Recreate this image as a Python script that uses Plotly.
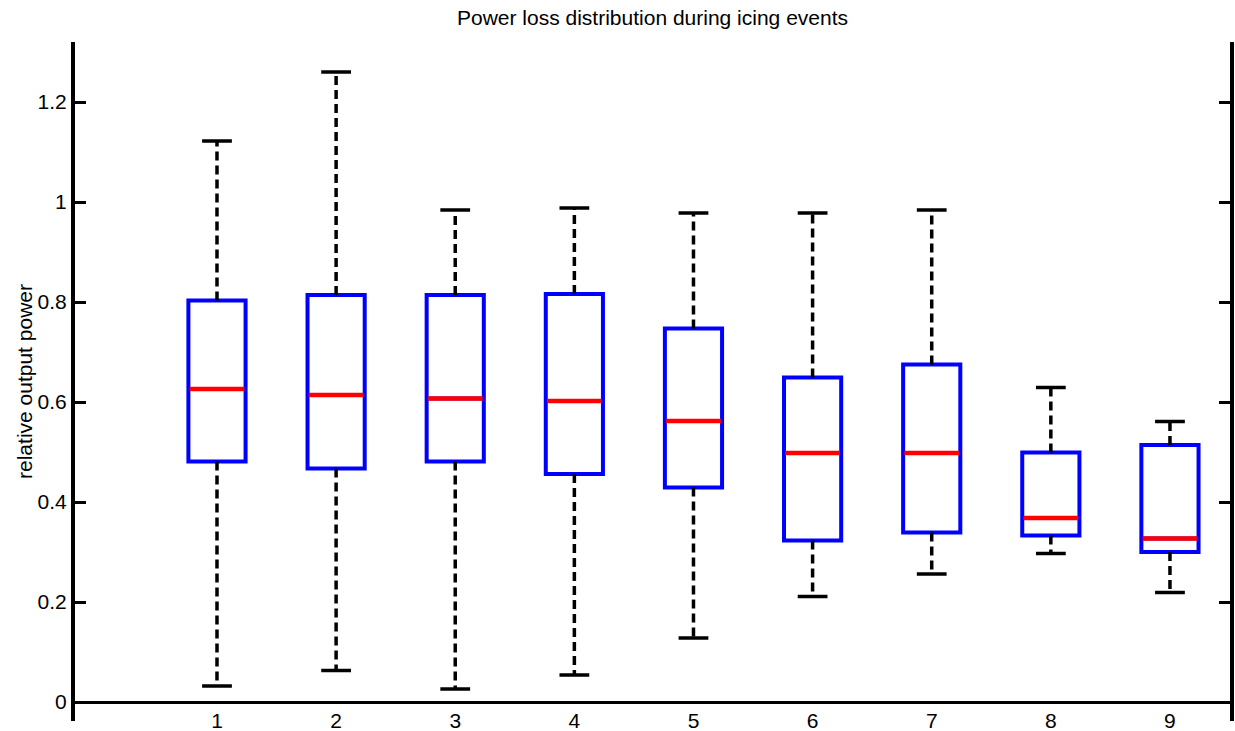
import plotly.graph_objects as go

# ---- data ----
groups = [1, 2, 3, 4, 5, 6, 7, 8, 9]
upper_whisker = [1.122, 1.260, 0.984, 0.988, 0.978, 0.978, 0.984, 0.629, 0.561]
q3 = [0.803, 0.814, 0.814, 0.816, 0.747, 0.649, 0.675, 0.499, 0.514]
median = [0.626, 0.614, 0.607, 0.602, 0.562, 0.498, 0.498, 0.368, 0.327]
q1 = [0.481, 0.467, 0.481, 0.456, 0.429, 0.323, 0.339, 0.333, 0.300]
lower_whisker = [0.032, 0.063, 0.026, 0.054, 0.128, 0.211, 0.256, 0.297, 0.219]
y_ticks = [0, 0.2, 0.4, 0.6, 0.8, 1.0, 1.2]
y_tick_labels = ["0", "0.2", "0.4", "0.6", "0.8", "1", "1.2"]
x_tick_labels = [str(g) for g in groups]

BOX_W = 0.48
CAP_HALF = 0.125
FONT = "Liberation Sans, Arial, Helvetica, sans-serif"
FS = 21

fig = go.Figure()

# whiskers (dashed)
wx, wy = [], []
for g, a, b, c, d in zip(groups, q3, upper_whisker, q1, lower_whisker):
    wx += [g, g, None, g, g, None]
    wy += [a, b, None, c, d, None]
fig.add_trace(go.Scatter(x=wx, y=wy, mode="lines",
                         line=dict(color="black", width=3.5, dash="9px,5px"),
                         hoverinfo="skip"))

# whisker caps
cx, cy = [], []
for g, b, d in zip(groups, upper_whisker, lower_whisker):
    cx += [g - CAP_HALF, g + CAP_HALF, None, g - CAP_HALF, g + CAP_HALF, None]
    cy += [b, b, None, d, d, None]
fig.add_trace(go.Scatter(x=cx, y=cy, mode="lines",
                         line=dict(color="black", width=3.5),
                         hoverinfo="skip"))

# boxes
fig.add_trace(go.Box(x=groups, q1=q1, median=median, q3=q3,
                     lowerfence=q1, upperfence=q3,
                     width=BOX_W, boxpoints=False,
                     line=dict(color="#0000FF", width=4),
                     fillcolor="rgba(0,0,0,0)", hoverinfo="skip"))

# medians
mx, my = [], []
for g, m in zip(groups, median):
    mx += [g - BOX_W / 2 + 0.01, g + BOX_W / 2 - 0.01, None]
    my += [m, m, None]
fig.add_trace(go.Scatter(x=mx, y=my, mode="lines",
                         line=dict(color="#FF0000", width=4.5),
                         hoverinfo="skip"))

fig.update_layout(
    template="none",
    width=1235, height=731,
    margin=dict(l=75, r=5, t=42, b=10, autoexpand=False),
    paper_bgcolor="white", plot_bgcolor="white",
    showlegend=False,
    font=dict(family=FONT, size=FS, color="black"),
    title=dict(text="Power loss distribution during icing events",
               x=0.5, xref="paper", xanchor="center",
               y=1 - 18 / 731, yref="container", yanchor="middle",
               font=dict(family=FONT, size=FS, color="black")),
    xaxis=dict(range=[-0.192, 9.504], showline=False, showgrid=False,
               zeroline=False, tickmode="array", tickvals=groups,
               ticktext=x_tick_labels, ticks="", automargin=False,
               ticklabelstandoff=-15,
               tickfont=dict(family=FONT, size=FS, color="black")),
    yaxis=dict(range=[-0.038, 1.32], showline=True, linecolor="black",
               linewidth=4, mirror="ticks", ticks="inside", ticklen=11,
               tickwidth=3, tickcolor="black", showgrid=False,
               zeroline=True, zerolinecolor="black", zerolinewidth=3,
               tickmode="array", tickvals=y_ticks, ticktext=y_tick_labels,
               automargin=False,
               tickfont=dict(family=FONT, size=FS, color="black"),
               title=dict(text="relative output power", standoff=0,
                          font=dict(family=FONT, size=FS, color="black"))),
)

fig.write_html("out.html")
